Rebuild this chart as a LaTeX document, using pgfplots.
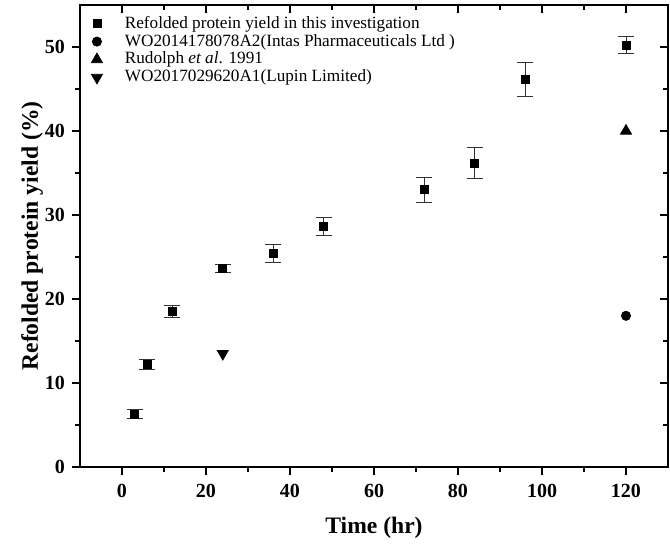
\documentclass[border=0pt]{standalone}
\usepackage{fontspec}
\setmainfont{Liberation Serif}
\usepackage{pgfplots}
\pgfplotsset{compat=1.18}

\pgfplotstableread{
x    y     ey
3    6.3   0.5
6    12.2  0.65
12   18.5  0.7
24   23.6  0.5
36   25.4  1.05
48   28.6  1.05
72   33.0  1.5
84   36.2  1.8
96   46.1  2.05
120  50.2  1.0
}\thiswork

\begin{document}
\begin{tikzpicture}
\pgfplotsset{
  common/.style={
    width=294pt, height=231pt, scale only axis,
    xmin=-10, xmax=130, ymin=0, ymax=55,
    xtick={0,20,...,120}, minor x tick num=1,
    ytick={0,10,...,50}, minor y tick num=1,
    axis line style={line width=0.8pt},
    major tick length=4pt, minor tick length=2.5pt,
    every tick/.style={black, line width=0.7pt},
  }
}
\begin{axis}[common, name=ax,
    tick align=outside, xtick pos=left, ytick pos=left,
    /pgf/number format/assume math mode=true,
    ticklabel style={font=\bfseries\fontsize{10}{12}\selectfont},
    xticklabel style={yshift=-1pt},
    xlabel={\textbf{Time (hr)}}, ylabel={\textbf{Refolded protein yield (\%)}},
    label style={font=\fontsize{11.8}{14}\selectfont},
    xlabel style={at={(axis description cs:0.5,-0.132)}, anchor=center},
    ylabel style={at={(axis description cs:-0.0816,0.5)}, anchor=center},
    legend cell align=left,
    legend style={draw=none, fill=none, at={(axis description cs:0.0,1.0)}, anchor=north west,
      xshift=2.5pt, yshift=-1.3pt,
      font=\fontsize{8.6}{10}\selectfont, row sep=-2.5pt,
      /tikz/every odd column/.append style={column sep=9.2pt}},
  ]
\addplot[only marks, mark=square*, mark size=2pt, black,
  error bars/.cd, y dir=both, y explicit,
  error bar style={line width=0.5pt, black!80},
  error mark options={rotate=90, mark size=4pt, line width=0.5pt, black!80}]
  table[x=x, y=y, y error=ey] {\thiswork};
\addlegendentry{Refolded protein yield in this investigation}
\addplot[only marks, mark=*, mark size=2.3pt, black] coordinates {(120,18.0)};
\addlegendentry{WO2014178078A2(Intas Pharmaceuticals Ltd )}
\addplot[only marks, mark=triangle*, mark size=3.2pt, black] coordinates {(120,40.0)};
\addlegendentry{Rudolph \textit{et al}. 1991}
\addplot[only marks, mark=triangle*, mark size=3.2pt, black, mark options={rotate=180}] coordinates {(24,13.5)};
\addlegendentry{WO2017029620A1(Lupin Limited)}
\end{axis}
\begin{scope}[overlay]
\begin{axis}[common,
    tick align=inside, xtick pos=right, ytick pos=right,
    xticklabels={}, yticklabels={},
  ]
\end{axis}
\end{scope}
\path (ax.south west) ++(-40pt,-38.5pt) coordinate (bb1);
\path (ax.south west) ++(295pt,233.5pt) coordinate (bb2);
\path (bb1) (bb2);
\end{tikzpicture}
\end{document}
